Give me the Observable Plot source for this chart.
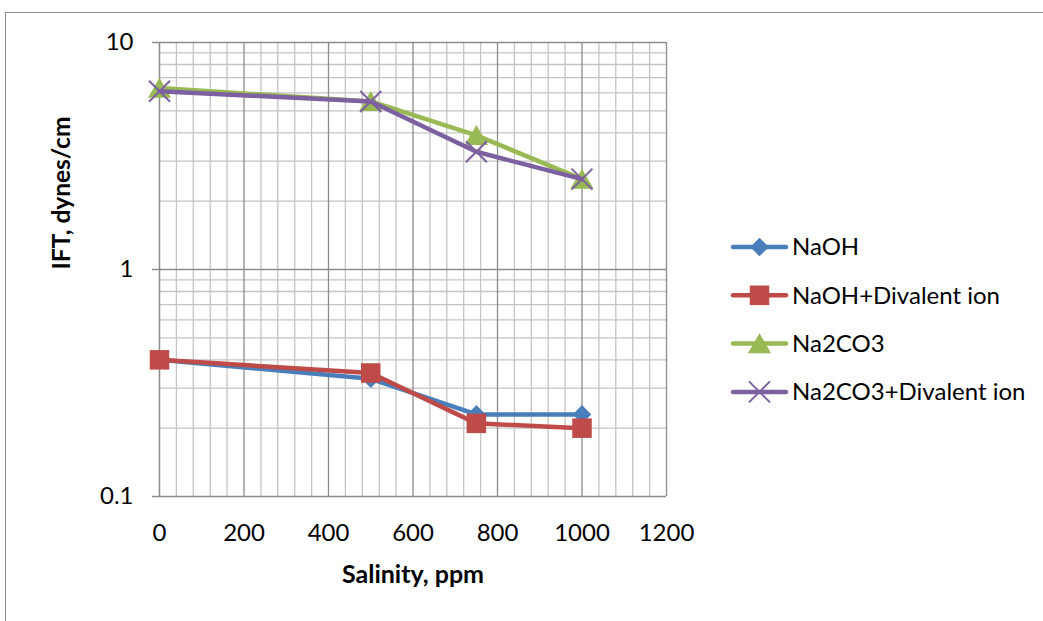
<!DOCTYPE html>
<html>
<head>
<meta charset="utf-8">
<script src="https://cdn.jsdelivr.net/npm/d3@7"></script>
<script src="https://cdn.jsdelivr.net/npm/@observablehq/plot@0.6"></script>
<style>
  html, body { margin: 0; padding: 0; background: #fff; }
  #page { position: relative; width: 1043px; height: 621px; overflow: hidden; font-family: Lato, "Open Sans", sans-serif; }
  #border { position: absolute; left: 5px; top: 12px; width: 1200px; height: 800px; border: 1.5px solid #8a8a8a; box-sizing: border-box; }
  #chart { position: absolute; left: 0; top: 0; }
  #legend { position: absolute; left: 720px; top: 220px; }
</style>
</head>
<body>
<div id="page">
  <div id="border"></div>
  <div id="chart"></div>
  <div id="legend"></div>
</div>
<script>
// Salinity (ppm) and interfacial tension (dynes/cm) for each alkali system
const salinity = [0, 500, 750, 1000];
const naoh = [0.4, 0.33, 0.23, 0.23];
const naohDivalent = [0.4, 0.35, 0.21, 0.2];
const na2co3 = [6.3, 5.5, 3.9, 2.5];
const na2co3Divalent = [6.1, 5.5, 3.3, 2.5];

const seriesNames = ["NaOH", "NaOH+Divalent ion", "Na2CO3", "Na2CO3+Divalent ion"];
const seriesValues = [naoh, naohDivalent, na2co3, na2co3Divalent];
const seriesColors = ["#4a7ebb", "#be4b48", "#98b954", "#7d60a0"];
const seriesSymbols = ["diamond2", "square", "triangle", "times"];

const xTicks = [0, 200, 400, 600, 800, 1000, 1200];
const yTicks = [0.1, 1, 10];

const xMinor = d3.range(0, 1201, 40).filter(v => v % 200 !== 0);
const xMajor = xTicks.slice(1);
const yMinor = [2, 3, 4, 5, 6, 7, 8, 9].flatMap(k => [k / 10, k]);
const yMajor = [1, 10];

const rows = seriesNames.map((name, i) =>
  salinity.map((s, j) => ({series: name, x: s, y: seriesValues[i][j]}))
);

// marker appearance per series
const markerOpts = [
  {symbol: seriesSymbols[0], r: 8.4, fill: seriesColors[0], stroke: "none"},
  {symbol: seriesSymbols[1], r: 11, fill: seriesColors[1], stroke: "none"},
  {symbol: seriesSymbols[2], r: 8.6, fill: seriesColors[2], stroke: "none", dy: 3},
  {symbol: seriesSymbols[3], r: 9.6, stroke: seriesColors[3], strokeWidth: 2, fill: "none"}
];

const seriesMarks = rows.flatMap((data, i) => [
  Plot.line(data, {x: "x", y: "y", stroke: seriesColors[i], strokeWidth: 4.5, strokeLinejoin: "round", strokeLinecap: "round"}),
  Plot.dot(data, {x: "x", y: "y", ...markerOpts[i]})
]);

const chart = Plot.plot({
  width: 700,
  height: 621,
  marginLeft: 159,
  marginRight: 34,
  marginTop: 42,
  marginBottom: 125,
  style: {fontFamily: "Lato, 'Open Sans', sans-serif", fontSize: "24px", color: "#000", background: "transparent"},
  x: {domain: [0, 1200]},
  y: {type: "log", domain: [0.1, 10]},
  marks: [
    Plot.ruleX(xMinor, {stroke: "#c4c4c4", strokeWidth: 1.3}),
    Plot.ruleY(yMinor, {stroke: "#c4c4c4", strokeWidth: 1.3}),
    Plot.ruleX(xMajor, {stroke: "#8c8c8c", strokeWidth: 1.3}),
    Plot.ruleY(yMajor, {stroke: "#8c8c8c", strokeWidth: 1.3}),
    Plot.ruleX([0], {stroke: "#8c8c8c", strokeWidth: 1.5}),
    Plot.ruleY([0.1], {stroke: "#8c8c8c", strokeWidth: 1.5}),
    Plot.axisX(xTicks, {tickSize: 0, tickPadding: 27, tickFormat: d => String(d), label: null, fill: "#000"}),
    Plot.axisY(yTicks, {tickSize: 7, tickPadding: 19, stroke: "#8c8c8c", strokeWidth: 1.5, tickFormat: d => String(d), label: null, fill: "#000"}),
    Plot.text(["Salinity, ppm"], {frameAnchor: "bottom", dy: 86, fontWeight: "bold", fontSize: 25, fill: "#000"}),
    Plot.text(["IFT, dynes/cm"], {frameAnchor: "left", dx: -97, rotate: -90, fontWeight: "bold", fontSize: 24.5, fill: "#000"}),
    ...seriesMarks
  ]
});
document.getElementById("chart").append(chart);

// legend: line swatch with marker, then series name
const legend = d3.select("#legend").append("svg")
  .attr("width", 320).attr("height", 200)
  .style("font-family", "Lato, 'Open Sans', sans-serif")
  .style("font-size", "24px");
const symbolTypes = {diamond2: d3.symbolDiamond2, square: d3.symbolSquare, triangle: d3.symbolTriangle, times: d3.symbolTimes};
seriesNames.forEach((name, i) => {
  const g = legend.append("g").attr("transform", `translate(0,${27 + i * 48.3})`);
  g.append("line").attr("x1", 13).attr("x2", 66).attr("y1", 0).attr("y2", 0)
    .attr("stroke", seriesColors[i]).attr("stroke-width", 4.5).attr("stroke-linecap", "round");
  const m = markerOpts[i];
  const size = Math.PI * m.r * m.r;
  g.append("path")
    .attr("transform", `translate(39.5,${m.dy || 0})`)
    .attr("d", d3.symbol(symbolTypes[m.symbol], size)())
    .attr("fill", m.fill).attr("stroke", m.stroke).attr("stroke-width", m.strokeWidth || 0);
  g.append("text").attr("x", 72).attr("y", 0).attr("dy", "0.35em").attr("fill", "#000").text(name);
});
</script>
</body>
</html>
